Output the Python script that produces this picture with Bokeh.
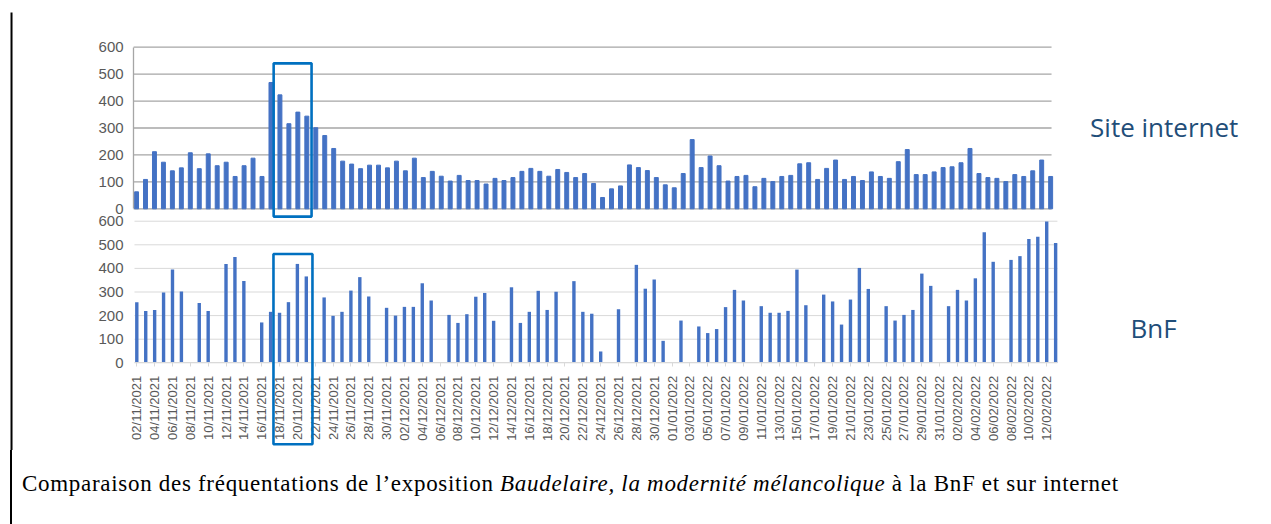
import math
import pandas as pd
from bokeh.plotting import figure
from bokeh.models import (Range1d, FixedTicker, Label, BoxAnnotation, Div,
                          LinearAxis)
from bokeh.layouts import column
from bokeh.embed import file_html
from bokeh.resources import INLINE

# ---------------- data ----------------
dates = list(pd.date_range("2021-11-02", "2022-02-13").strftime("%d/%m/%Y"))

# visits to the web site (02/11/2021 -> 12/02/2022)
site_internet = [
    63, 109, 212, 173, 141, 152, 208, 149, 204, 160,
    173, 120, 160, 188, 120, 469, 423, 316, 359, 344,
    301, 272, 224, 177, 166, 149, 162, 162, 152, 177,
    141, 188,
    116, 139, 121, 103, 124, 105, 105, 92, 113, 105,
    116, 139, 150, 139, 121, 146, 135, 116, 131, 94,
    42, 74, 85, 163, 153, 142, 116, 89, 78, 131,
    257, 153, 196, 160, 103, 120,
    124, 82, 113, 101, 120, 124, 167, 171, 109, 150,
    181, 109, 120, 105, 137, 120, 113, 175, 220, 127,
    127, 137, 153, 156, 171, 224, 131, 116, 113, 101,
    127, 120, 141, 181, 120,
]

# visitors at the BnF (02/11/2021 -> 13/02/2022), 0 = closed
bnf = [
    257, 220, 224, 298, 395, 302, 0, 253, 220, 0,
    419, 448, 347, 0, 171, 216, 212, 257, 419, 366,
    0, 277, 199, 216, 306, 363, 281, 0, 233, 200,
    237, 237,
    337, 264, 0, 203, 169, 206, 280, 296, 178, 0,
    320, 169, 216, 305, 224, 301, 0, 346, 216, 208,
    48, 0, 227, 0, 415, 314, 353, 93, 0, 179,
    0, 154, 126, 143, 236, 309,
    264, 0, 240, 212, 212, 220, 395, 244, 0, 289,
    260, 162, 268, 402, 313, 0, 240, 179, 203, 224,
    378, 326, 0, 240, 309, 264, 358, 553, 428, 0,
    436, 452, 525, 534, 599, 508,
]

y_ticks = [0, 100, 200, 300, 400, 500, 600]
series_names = ["Site internet", "BnF"]
highlight_days = ["18/11/2021", "21/11/2021"]
caption_plain_1 = "Comparaison des fréquentations de l’exposition "
caption_italic = "Baudelaire, la modernité mélancolique"
caption_plain_2 = " à la BnF et sur internet"

BAR = "#4472C4"
TXT = "#595959"
HL = "#0070C0"
NAME = "#1F4E79"
W, H = 1262, 450

h0 = dates.index(highlight_days[0])
h1 = dates.index(highlight_days[1])

# plot-area extents (in day-index units) of the two panels
top_area = (-0.33, 102.1)
bot_area = (-0.26, 103.2)

p = figure(width=W, height=H, output_backend="svg", toolbar_location=None,
           x_range=Range1d(-15.18, 125.64), y_range=Range1d(-897.4, 773.4),
           x_axis_location=None, y_axis_location=None,
           min_border=0, min_border_left=0, min_border_right=0,
           min_border_top=0, min_border_bottom=0)
p.extra_x_ranges = {"bx": Range1d(-15.28, 126.19)}
p.extra_y_ranges = {"by": Range1d(-371.6, 1535.2)}
p.outline_line_color = None
p.background_fill_color = None
p.border_fill_color = None
p.grid.visible = False


def y_axis(**kw):
    ax = LinearAxis(ticker=FixedTicker(ticks=y_ticks), major_tick_line_color=None,
                    major_tick_out=0, major_tick_in=0,
                    minor_tick_line_color=None, major_label_text_color=TXT,
                    major_label_text_font="Liberation Sans",
                    major_label_text_font_size="15px", **kw)
    p.add_layout(ax, "left")
    return ax


# ---------------- top panel : Site internet ----------------
p.segment(x0=top_area[0], x1=top_area[1], y0=y_ticks, y1=y_ticks,
          line_color="#a6a6a6", line_width=1.3)
y_axis(fixed_location=top_area[0], bounds=(0, 600), axis_line_color="#a6a6a6",
       axis_line_width=1.3, major_label_standoff=10)
p.vbar(x=list(range(len(site_internet))), top=site_internet, width=0.44, color=BAR)
p.add_layout(BoxAnnotation(left=h0 - 0.7, right=h1 + 0.53, top=540, bottom=-29,
                           fill_alpha=0, line_color=HL, line_alpha=1, line_width=2.6))
p.add_layout(Label(x=106.4, y=302, text=series_names[0], text_font="Open Sans",
                   text_font_size="26px", text_color=NAME, text_baseline="middle"))

# ---------------- bottom panel : BnF ----------------
p.segment(x0=bot_area[0], x1=bot_area[1], y0=y_ticks, y1=y_ticks,
          line_color="#d9d9d9", line_width=1,
          x_range_name="bx", y_range_name="by")
y_axis(x_range_name="bx", y_range_name="by", fixed_location=bot_area[0],
       axis_line_color=None, major_label_standoff=11)
tick_idx = list(range(0, len(dates), 2))
xax = LinearAxis(x_range_name="bx", y_range_name="by", fixed_location=0,
                 bounds=bot_area, ticker=FixedTicker(ticks=tick_idx),
                 major_label_overrides={i: dates[i] for i in tick_idx},
                 major_label_orientation=math.pi / 2,
                 major_label_text_color=TXT, major_label_text_font="Liberation Sans",
                 major_label_text_font_size="13px", major_label_standoff=9,
                 axis_line_color="#d9d9d9", major_tick_line_color="#d9d9d9",
                 major_tick_out=4, major_tick_in=0, minor_tick_line_color=None)
p.add_layout(xax, "below")
p.vbar(x=list(range(len(bnf))), top=bnf, width=0.38, color=BAR, line_color=None,
       x_range_name="bx", y_range_name="by")
p.add_layout(BoxAnnotation(left=h0 - 0.68, right=h1 + 0.69, top=461, bottom=-345,
                           x_range_name="bx", y_range_name="by",
                           fill_alpha=0, line_color=HL, line_alpha=1, line_width=2.6))
p.add_layout(Label(x=111.4, y=149, text=series_names[1], text_font="Open Sans",
                   text_font_size="26px", text_color=NAME, text_baseline="middle",
                   x_range_name="bx", y_range_name="by"))

# left border line of the page block
p.segment(x0=[-13.95], x1=[-13.95], y0=[728.8], y1=[-897.4],
          line_color="#000", line_width=2)

# ---------------- caption ----------------
caption = Div(
    text=('<div style="margin-left:10px;border-left:2px solid #000;height:74px;'
          'box-sizing:border-box;padding:21px 0 0 10px;'
          'font-family:\'Liberation Serif\';font-size:23px;letter-spacing:0.7px;'
          'line-height:26px;color:#000;white-space:nowrap">'
          f'{caption_plain_1}<i>{caption_italic}</i>{caption_plain_2}</div>'),
    width=W, height=74, margin=(0, 0, 0, 0))

layout = column(p, caption)

open("out.html", "w").write(file_html(layout, INLINE))
